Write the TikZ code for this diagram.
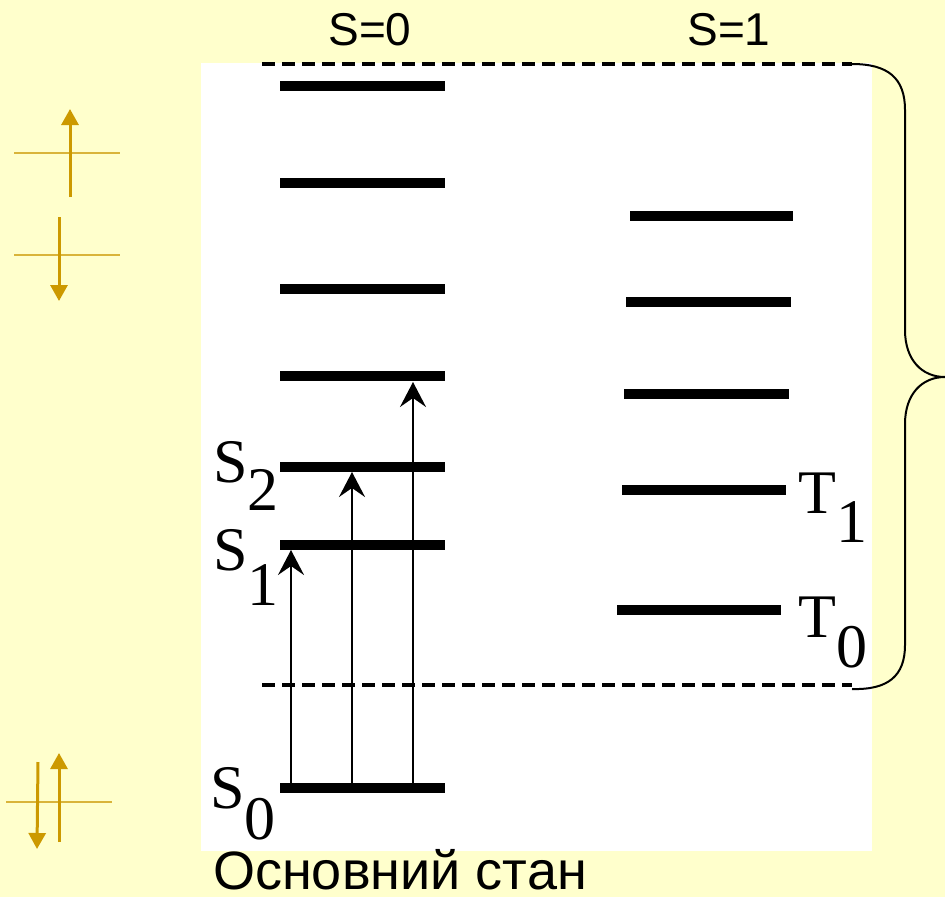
\documentclass[tikz,border=0pt]{standalone}
\usepackage{fontspec}
\setmainfont{Liberation Serif}
\newfontfamily\arialf{Liberation Sans}
\usetikzlibrary{arrows.meta}
\definecolor{bgyellow}{HTML}{FFFFCC}
\definecolor{goldarrow}{HTML}{CC9900}
\definecolor{goldline}{HTML}{D9B43A}
\begin{document}
\begin{tikzpicture}[x=1pt,y=-1pt,
 level/.style={line width=10.5pt},
 exc/.style={line width=1.8pt,-{Stealth[length=25pt,width=26pt,inset=9pt]}},
 dashline/.style={line width=3.6pt,dash pattern=on 13pt off 7pt},
 bracestyle/.style={line width=2pt},
 spinbase/.style={goldline,line width=2pt},
 spin/.style={goldarrow,line width=3pt,-{Triangle[length=16pt,width=17pt]}},
 lab/.style={font=\fontsize{62}{62}\selectfont,anchor=base west,inner sep=0pt,text depth=0pt},
 head/.style={font=\arialf\fontsize{46}{46}\selectfont,inner sep=0pt},
]
\fill[bgyellow] (0,0) rectangle (945,897);
\useasboundingbox (0,0) rectangle (945,897);
\fill[white] (201,63) rectangle (872,851);

% headers
\node[head] (h0) at (370,30) {S=0};
\node[head] (h1) at (729,30) {S=1};
\node[font=\arialf\fontsize{54}{54}\selectfont,inner sep=0pt,anchor=base,text depth=0pt] (gs) at (400,889) {Основний стан};

% dashed bounds
\coordinate (dt1) at (262,64);
\coordinate (dt2) at (852,64);
\coordinate (db1) at (262,685);
\coordinate (db2) at (852,689);
\coordinate (db3) at (852,685);
\draw[dashline] (dt1) -- (dt2);
\draw[dashline] (db1) -- (db3);

% brace
\coordinate (bt) at (905,110);
\coordinate (bm1) at (905,330);
\coordinate (tipb) at (945,377);
\coordinate (bm2) at (905,424);
\coordinate (bb) at (905,645);
\draw[bracestyle] (dt2) .. controls (888,64) and (905,78) .. (bt) -- (bm1)
  .. controls (905,360) and (922,377) .. (tipb)
  .. controls (922,377) and (905,394) .. (bm2) -- (bb)
  .. controls (905,676) and (888,690) .. (db2);

% singlet levels
\foreach \n/\y in {s6/86,s5/183,s4/289,s3/376,s2/467,s1/545,s0/788}{
  \coordinate (\n l) at (280,\y);
  \coordinate (\n r) at (445,\y);
  \draw[level] (\n l) -- (\n r);
}
% triplet levels
\foreach \n/\xa/\xb/\y in {t4/630/793/216,t3/626/791/302,t2/624/789/394,t1/622/786/490,t0/617/781/610}{
  \coordinate (\n l) at (\xa,\y);
  \coordinate (\n r) at (\xb,\y);
  \draw[level] (\n l) -- (\n r);
}

% excitation arrows
\coordinate (a1b) at (291,784); \coordinate (a1t) at (291,550);
\coordinate (a2b) at (352,784); \coordinate (a2t) at (352,472);
\coordinate (a3b) at (413,784); \coordinate (a3t) at (413,382);
\draw[exc] (a1b) -- (a1t);
\draw[exc] (a2b) -- (a2t);
\draw[exc] (a3b) -- (a3t);

% labels
\node[lab] (ls2) at (213,482) {S\raisebox{-28pt}{2}};
\node[lab] (ls1) at (213,570) {S\raisebox{-35pt}{1}};
\node[lab] (ls0) at (210,808) {S\raisebox{-31pt}{0}};
\node[lab] (lt1) at (798,513) {T\raisebox{-29pt}{1}};
\node[lab] (lt0) at (798,637) {T\raisebox{-30pt}{0}};

% spin icons
\coordinate (p1a) at (14,153); \coordinate (p1b) at (120,153);
\coordinate (u1b) at (70,197); \coordinate (u1t) at (70,109);
\draw[spinbase] (p1a) -- (p1b);
\draw[spin] (u1b) -- (u1t);

\coordinate (p2a) at (14,255); \coordinate (p2b) at (120,255);
\coordinate (d2t) at (59,217); \coordinate (d2b) at (59,301);
\draw[spinbase] (p2a) -- (p2b);
\draw[spin] (d2t) -- (d2b);

\coordinate (p3a) at (6,802); \coordinate (p3b) at (112,802);
\coordinate (d3t) at (38,762); \coordinate (d3b) at (37,849);
\coordinate (u3b) at (59,842); \coordinate (u3t) at (59,753);
\draw[spinbase] (p3a) -- (p3b);
\draw[spin] (d3t) -- (d3b);
\draw[spin] (u3b) -- (u3t);
\end{tikzpicture}
\end{document}
